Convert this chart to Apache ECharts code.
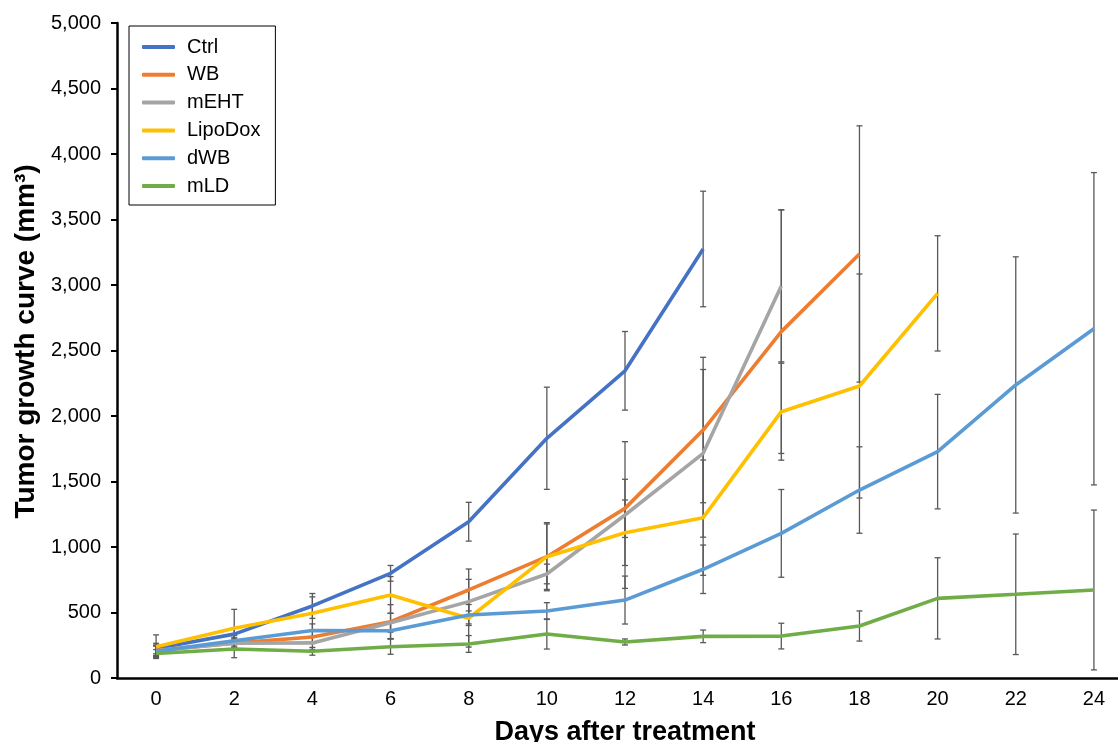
<!DOCTYPE html>
<html>
<head>
<meta charset="utf-8">
<script src="https://cdn.jsdelivr.net/npm/echarts@6/dist/echarts.min.js"></script>
<style>
html,body{margin:0;padding:0;background:#fff;}
#chart{width:1118px;height:742px;}
</style>
</head>
<body>
<div id="chart"></div>
<script>
const days = ['0','2','4','6','8','10','12','14','16','18','20','22','24'];
const seriesNames = ['Ctrl','WB','mEHT','LipoDox','dWB','mLD'];
const colors = ['#4472C4','#ED7D31','#A5A5A5','#FFC000','#5B9BD5','#70AD47'];

const ctrl    = [225, 335, 550, 799, 1193, 1830, 2345, 3275, null, null, null, null, null];
const ctrlErr = [40, 45, 95, 60, 148, 390, 300, 441];
const wb      = [212, 266, 313, 430, 672, 926, 1295, 1893, 2644, 3237, null, null, null];
const wbErr   = [40, 40, 50, 130, 160, 260, 222, 555, 930, 978];
const meht    = [208, 265, 268, 422, 583, 794, 1244, 1715, 2993, null, null, null, null];
const mehtErr = [40, 40, 50, 72, 170, 75, 560, 640, 580];
const lipo    = [239, 379, 494, 634, 456, 926, 1109, 1224, 2033, 2229, 2936, null, null];
const lipoErr = [90, 145, 125, 140, 220, 250, 250, 440, 370, 855, 440];
const dwb     = [203, 284, 363, 361, 481, 511, 595, 830, 1104, 1435, 1728, 2237, 2666];
const dwbErr  = [40, 40, 50, 60, 80, 64, 183, 185, 335, 330, 437, 978, 1192];
const mld     = [187, 221, 204, 239, 260, 336, 275, 318, 320, 397, 608, 639, 672];
const mldErr  = [30, 66, 30, 58, 64, 115, 23, 48, 98, 115, 310, 460, 610];

const yTicks = [0, 500, 1000, 1500, 2000, 2500, 3000, 3500, 4000, 4500, 5000];

const values = [ctrl, wb, meht, lipo, dwb, mld];
const errs = [ctrlErr, wbErr, mehtErr, lipoErr, dwbErr, mldErr];
const FONT = 'Liberation Sans, Arial, sans-serif';

function errData(v, e) {
  const out = [];
  v.forEach((val, i) => {
    if (val != null && e[i] != null) out.push([i, val - e[i], val + e[i]]);
  });
  return out;
}

function renderErr(params, api) {
  const x = api.value(0);
  const lo = api.coord([x, api.value(1)]);
  const hi = api.coord([x, api.value(2)]);
  const cw = 3;
  const style = { stroke: '#595959', lineWidth: 1.3, fill: null };
  return {
    type: 'group',
    children: [
      { type: 'line', shape: { x1: hi[0], y1: hi[1], x2: lo[0], y2: lo[1] }, style: style },
      { type: 'line', shape: { x1: hi[0] - cw, y1: hi[1], x2: hi[0] + cw, y2: hi[1] }, style: style },
      { type: 'line', shape: { x1: lo[0] - cw, y1: lo[1], x2: lo[0] + cw, y2: lo[1] }, style: style }
    ]
  };
}

const series = [];
values.forEach((v, k) => {
  series.push({
    name: 'err_' + seriesNames[k],
    type: 'custom',
    renderItem: renderErr,
    data: errData(v, errs[k]),
    encode: { x: 0, y: [1, 2] },
    z: 1,
    silent: true
  });
});
values.forEach((v, k) => {
  series.push({
    name: seriesNames[k],
    type: 'line',
    data: v,
    symbol: 'none',
    color: colors[k],
    lineStyle: { width: 3.6, color: colors[k] },
    connectNulls: false,
    z: 3,
    animation: false
  });
});

const chart = echarts.init(document.getElementById('chart'), null, { renderer: 'canvas' });
chart.setOption({
  animation: false,
  backgroundColor: '#fff',
  grid: { left: 117, top: 23, width: 1016, height: 655, containLabel: false, outerBoundsMode: 'none' },
  legend: {
    data: seriesNames,
    orient: 'vertical',
    left: 129,
    top: 26,
    padding: [11, 15, 9, 13],
    itemGap: 7.8,
    itemWidth: 33,
    itemHeight: 4,
    icon: 'roundRect',
    borderColor: '#000',
    borderWidth: 1,
    textStyle: { fontSize: 20, fontFamily: FONT, color: '#000', lineHeight: 20, padding: [0, 0, 0, 7] }
  },
  xAxis: {
    type: 'category',
    data: days,
    boundaryGap: true,
    axisLine: { lineStyle: { color: '#000', width: 2.5 } },
    axisTick: { show: false },
    axisLabel: { fontSize: 20, fontFamily: FONT, color: '#000', margin: 11, interval: 0 },
    name: 'Days after treatment',
    nameLocation: 'middle',
    nameGap: 41,
    nameTextStyle: { fontSize: 27, fontWeight: 'bold', fontFamily: FONT, color: '#000' },
    splitLine: { show: false }
  },
  yAxis: {
    type: 'value',
    min: yTicks[0],
    max: yTicks[yTicks.length - 1],
    interval: yTicks[1] - yTicks[0],
    axisLine: { show: true, lineStyle: { color: '#000', width: 2.5 } },
    axisTick: { show: true, length: 6, lineStyle: { color: '#000', width: 2 } },
    axisLabel: {
      fontSize: 20, fontFamily: FONT, color: '#000', margin: 16,
      formatter: v => v.toLocaleString('en-US')
    },
    splitLine: { show: false },
    name: 'Tumor growth curve (mm³)',
    nameLocation: 'middle',
    nameRotate: 90,
    nameGap: 76,
    nameTextStyle: { fontSize: 28, fontWeight: 'bold', fontFamily: FONT, color: '#000', padding: [0, 0, 0, 18] }
  },
  series: series
});
</script>
</body>
</html>
